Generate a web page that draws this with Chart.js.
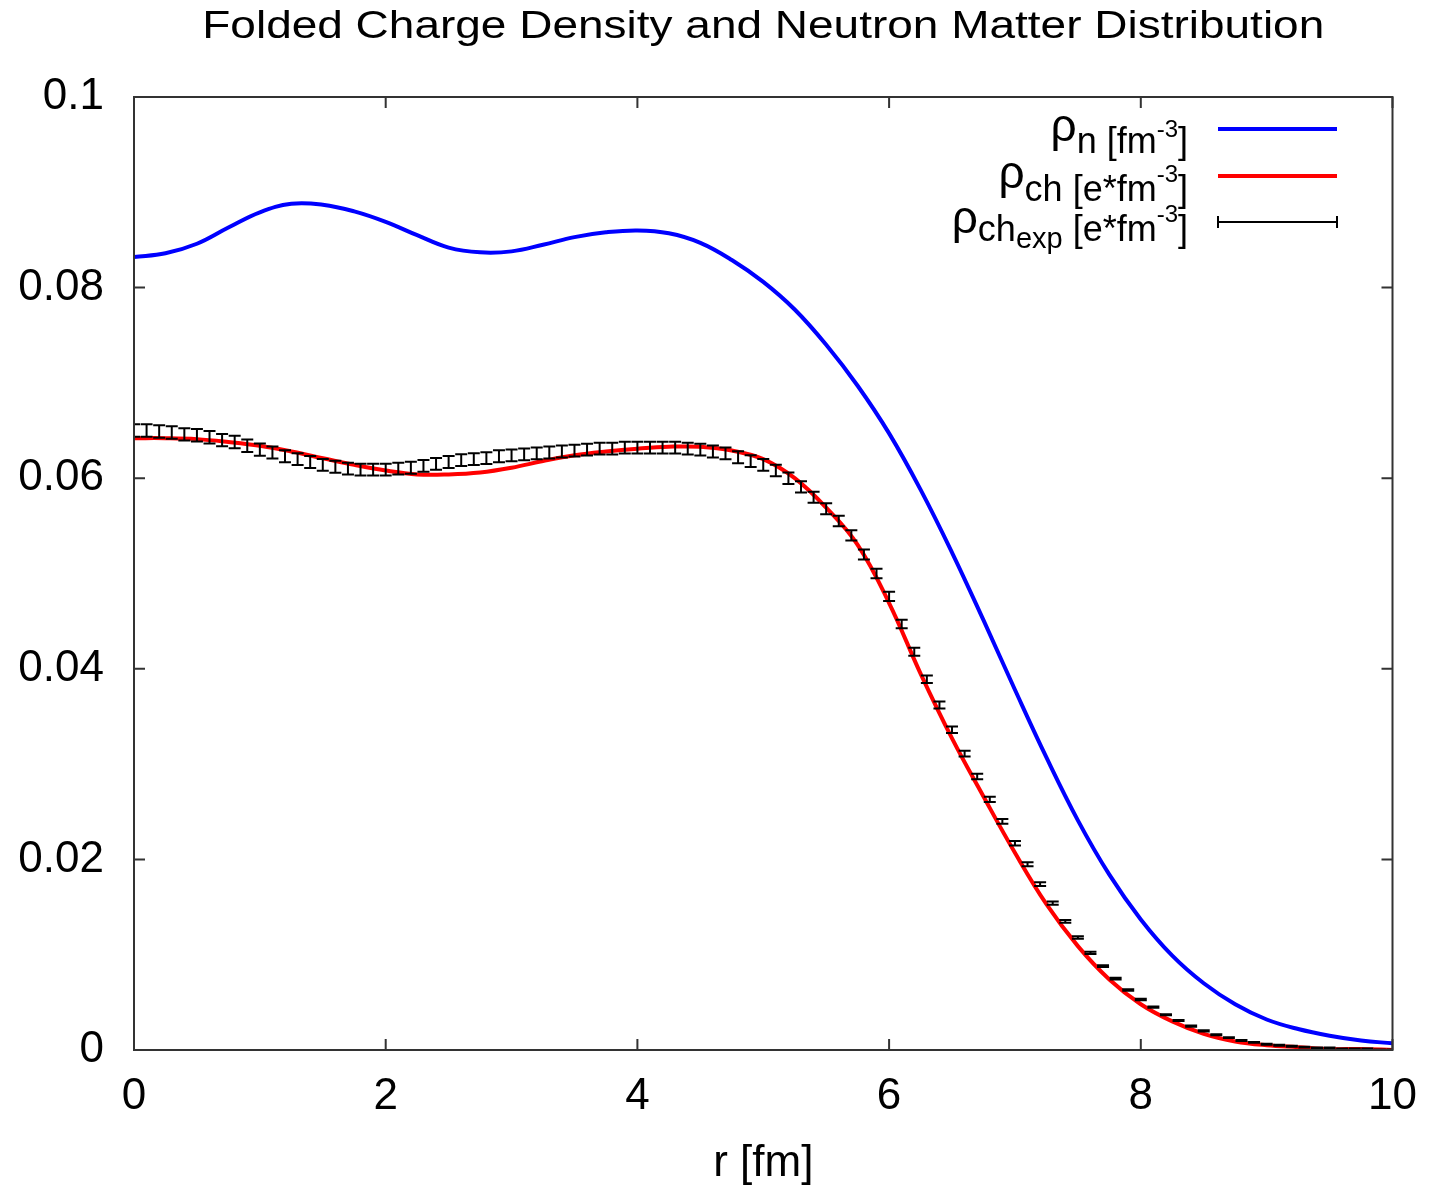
<!DOCTYPE html>
<html>
<head>
<meta charset="utf-8">
<title>Folded Charge Density and Neutron Matter Distribution</title>
<script src="https://cdn.jsdelivr.net/npm/chart.js@4.4.0/dist/chart.umd.min.js"></script>
<style>
  html, body { margin: 0; padding: 0; background: #fff; }
  #myChart { display: block; }
</style>
</head>
<body>
<canvas id="myChart" width="1429" height="1190"></canvas>
<script>
// radius grid for the two calculated curves [fm]
var rCalc = [0, 0.25, 0.5, 0.75, 1, 1.25, 1.5, 1.75, 2, 2.25, 2.5, 2.75, 3, 3.25, 3.5, 3.75,
             4, 4.25, 4.5, 4.75, 5, 5.25, 5.5, 5.75, 6, 6.25, 6.5, 6.75, 7, 7.25, 7.5, 7.75,
             8, 8.25, 8.5, 8.75, 9, 9.25, 9.5, 9.75, 10];

// neutron matter density rho_n [fm^-3]
var rhoN = [0.0832, 0.0836, 0.0846, 0.0863, 0.0879, 0.0888, 0.0887, 0.0880, 0.0869, 0.0855,
            0.0842, 0.0837, 0.0838, 0.0845, 0.0853, 0.0858, 0.0860, 0.0857, 0.0847, 0.0829,
            0.0806, 0.0777, 0.0740, 0.0697, 0.0647, 0.0588, 0.0522, 0.0451, 0.0378, 0.0307,
            0.0241, 0.0184, 0.0137, 0.0099, 0.0070, 0.0048, 0.0032, 0.0022, 0.0015, 0.0010, 0.0007];

// folded charge density rho_ch [e*fm^-3]
var rhoCh = [0.0642, 0.0642, 0.0641, 0.0638, 0.0634, 0.0628, 0.0621, 0.0614, 0.0608, 0.0604,
             0.0604, 0.0606, 0.0611, 0.0618, 0.0624, 0.0628, 0.0631, 0.0633, 0.0633, 0.0629,
             0.0620, 0.0600, 0.0569, 0.0530, 0.0469, 0.0395, 0.0327, 0.0266, 0.0207, 0.0153,
             0.0109, 0.0074, 0.0048, 0.0030, 0.0017, 0.0009, 0.0005, 0.0003, 0.0001, 0.0001, 0.0000];

// experimental charge density with errors
var rExp = [0, 0.1, 0.2, 0.3, 0.4, 0.5, 0.6, 0.7, 0.8, 0.9,
            1, 1.1, 1.2, 1.3, 1.4, 1.5, 1.6, 1.7, 1.8, 1.9,
            2, 2.1, 2.2, 2.3, 2.4, 2.5, 2.6, 2.7, 2.8, 2.9,
            3, 3.1, 3.2, 3.3, 3.4, 3.5, 3.6, 3.7, 3.8, 3.9,
            4, 4.1, 4.2, 4.3, 4.4, 4.5, 4.6, 4.7, 4.8, 4.9,
            5, 5.1, 5.2, 5.3, 5.4, 5.5, 5.6, 5.7, 5.8, 5.9,
            6, 6.1, 6.2, 6.3, 6.4, 6.5, 6.6, 6.7, 6.8, 6.9,
            7, 7.1, 7.2, 7.3, 7.4, 7.5, 7.6, 7.7, 7.8, 7.9,
            8, 8.1, 8.2, 8.3, 8.4, 8.5, 8.6, 8.7, 8.8, 8.9,
            9, 9.1, 9.2, 9.3, 9.4, 9.5, 9.6, 9.7, 9.8, 9.9, 10];
var rhoExp = [0.0650, 0.0650, 0.0649, 0.0648, 0.0646, 0.0645, 0.0643, 0.0640, 0.0638, 0.0634,
              0.0630, 0.0627, 0.0623, 0.0620, 0.0617, 0.0614, 0.0612, 0.0610, 0.0609, 0.0609,
              0.0609, 0.0610, 0.0611, 0.0613, 0.0615, 0.0617, 0.0619, 0.0620, 0.0621, 0.0623,
              0.0624, 0.0625, 0.0626, 0.0627, 0.0628, 0.0629, 0.0630, 0.0631, 0.0631, 0.0632,
              0.0632, 0.0632, 0.0632, 0.0632, 0.0631, 0.0630, 0.0628, 0.0626, 0.0622, 0.0618,
              0.0614, 0.0608, 0.0600, 0.0591, 0.0580, 0.0568, 0.0555, 0.0540, 0.0520, 0.0500,
              0.0476, 0.0447, 0.0418, 0.0389, 0.0362, 0.0336, 0.0311, 0.0287, 0.0263, 0.0240,
              0.0217, 0.0195, 0.0174, 0.0154, 0.0135, 0.0118, 0.0102, 0.0088, 0.0075, 0.0063,
              0.0053, 0.0045, 0.0037, 0.0031, 0.0025, 0.0020, 0.0016, 0.0013, 0.0010, 0.0008,
              0.0006, 0.0005, 0.0004, 0.0003, 0.0002, 0.0002, 0.0001, 0.0001, 0.0001, 0.0000, 0.0000];
var errExp = [0.00065, 0.00065, 0.00065, 0.00065, 0.00065, 0.00065, 0.00065, 0.00065, 0.00065, 0.00065,
              0.00065, 0.00062, 0.00062, 0.00062, 0.00062, 0.00062, 0.00062, 0.00062, 0.00062, 0.00062,
              0.00062, 0.00062, 0.00062, 0.00062, 0.00062, 0.00062, 0.00062, 0.00062, 0.00062, 0.00062,
              0.00062, 0.00062, 0.00062, 0.00062, 0.00062, 0.00062, 0.00062, 0.00062, 0.00062, 0.00062,
              0.00062, 0.00062, 0.00062, 0.00062, 0.00062, 0.00062, 0.00062, 0.00062, 0.00062, 0.00062,
              0.00062, 0.00060, 0.00060, 0.00059, 0.00058, 0.00057, 0.00055, 0.00054, 0.00052, 0.00050,
              0.00048, 0.00045, 0.00042, 0.00039, 0.00036, 0.00034, 0.00031, 0.00029, 0.00027, 0.00025,
              0.00023, 0.00021, 0.00019, 0.00017, 0.00015, 0.00013, 0.00012, 0.00010, 0.00009, 0.00008,
              0.00007, 0.00006, 0.00006, 0.00006, 0.00006, 0.00006, 0.00005, 0.00005, 0.00005, 0.00005,
              0.00005, 0.00005, 0.00005, 0.00005, 0.00005, 0.00005, 0.00005, 0.00005, 0.00005, 0.00005, 0.00005];

var xTickLabels = ['0', '2', '4', '6', '8', '10'];
var yTickLabels = ['0', '0.02', '0.04', '0.06', '0.08', '0.1'];
var chartTitle = 'Folded Charge Density and Neutron Matter Distribution';

function pts(xs, ys) {
  return xs.map(function (x, i) { return { x: x, y: ys[i] }; });
}

var FONT = "'Liberation Sans', Arial, sans-serif";

// error bars of the experimental points, drawn on top of the curves
var errorBars = {
  id: 'errorBars',
  afterDatasetsDraw: function (chart) {
    var meta = chart.getDatasetMeta(2);
    var ys = chart.scales.y;
    var a = chart.chartArea;
    var ctx = chart.ctx;
    ctx.save();
    ctx.beginPath();
    ctx.rect(a.left, a.top, a.right - a.left, a.bottom - a.top);
    ctx.clip();
    ctx.strokeStyle = '#000';
    ctx.lineWidth = 2;
    ctx.beginPath();
    meta.data.forEach(function (pt, i) {
      var top = ys.getPixelForValue(rhoExp[i] + errExp[i]);
      var bot = ys.getPixelForValue(rhoExp[i] - errExp[i]);
      ctx.moveTo(pt.x, top); ctx.lineTo(pt.x, bot);
      ctx.moveTo(pt.x - 6, top); ctx.lineTo(pt.x + 6, top);
      ctx.moveTo(pt.x - 6, bot); ctx.lineTo(pt.x + 6, bot);
    });
    ctx.stroke();
    ctx.restore();
  }
};

// gnuplot style box with inward ticks on all four sides, plus the title
var frame = {
  id: 'frame',
  afterDraw: function (chart) {
    var a = chart.chartArea;
    var ctx = chart.ctx;
    var xs = chart.scales.x, ys = chart.scales.y;
    ctx.save();
    ctx.strokeStyle = '#333';
    ctx.lineWidth = 2;
    ctx.strokeRect(a.left, a.top, a.right - a.left, a.bottom - a.top);
    ctx.beginPath();
    xs.ticks.forEach(function (t) {
      var px = xs.getPixelForValue(t.value);
      ctx.moveTo(px, a.bottom); ctx.lineTo(px, a.bottom - 11);
      ctx.moveTo(px, a.top); ctx.lineTo(px, a.top + 11);
    });
    ys.ticks.forEach(function (t) {
      var py = ys.getPixelForValue(t.value);
      ctx.moveTo(a.left, py); ctx.lineTo(a.left + 11, py);
      ctx.moveTo(a.right, py); ctx.lineTo(a.right - 11, py);
    });
    ctx.stroke();

    // title: gnuplot's font is wider than Liberation Sans, stretch it a bit
    ctx.font = '38px ' + FONT;
    ctx.fillStyle = '#000';
    ctx.textAlign = 'center';
    ctx.textBaseline = 'alphabetic';
    var w = ctx.measureText(chartTitle).width;
    var sx = 1122 / w;
    ctx.translate((a.left + a.right) / 2, 38);
    ctx.scale(sx, 1);
    ctx.fillText(chartTitle, 0, 0);
    ctx.restore();
  }
};

// legend with sub/superscripts, right aligned like gnuplot's key
var keyRows = [
  { parts: [['ρ', 46, 141], ['n [fm', 36, 153], ['-3', 24, 137], [']', 36, 153]], y: 129, kind: 'line', color: '#0000ff' },
  { parts: [['ρ', 46, 188], ['ch [e*fm', 36, 201], ['-3', 24, 182], [']', 36, 201]], y: 176, kind: 'line', color: '#ff0000' },
  { parts: [['ρ', 46, 233], ['ch', 36, 241], ['exp', 29, 248], [' [e*fm', 36, 241], ['-3', 24, 222], [']', 36, 241]], y: 222, kind: 'err', color: '#000' }
];
var gnuKey = {
  id: 'gnuKey',
  afterDraw: function (chart) {
    var ctx = chart.ctx;
    var textRight = 1188, x0 = 1218, x1 = 1337;
    ctx.save();
    keyRows.forEach(function (row) {
      var widths = row.parts.map(function (p) {
        ctx.font = p[1] + 'px ' + FONT;
        return ctx.measureText(p[0]).width;
      });
      var total = widths.reduce(function (s, w) { return s + w; }, 0);
      var x = textRight - total;
      ctx.fillStyle = '#000';
      ctx.textBaseline = 'alphabetic';
      ctx.textAlign = 'left';
      row.parts.forEach(function (p, i) {
        ctx.font = p[1] + 'px ' + FONT;
        ctx.fillText(p[0], x, p[2]);
        x += widths[i];
      });
      ctx.strokeStyle = row.color;
      ctx.beginPath();
      if (row.kind === 'line') {
        ctx.lineWidth = 4;
        ctx.moveTo(x0, row.y); ctx.lineTo(x1, row.y);
      } else {
        ctx.lineWidth = 2;
        ctx.moveTo(x0, row.y); ctx.lineTo(x1, row.y);
        ctx.moveTo(x0, row.y - 6); ctx.lineTo(x0, row.y + 6);
        ctx.moveTo(x1, row.y - 6); ctx.lineTo(x1, row.y + 6);
      }
      ctx.stroke();
    });
    ctx.restore();
  }
};

window.addEventListener('DOMContentLoaded', function () {
  var ctx = document.getElementById('myChart').getContext('2d');
  var chart = new Chart(ctx, {
    type: 'line',
    data: {
      datasets: [{
        label: 'ρn [fm-3]',
        data: pts(rCalc, rhoN),
        borderColor: '#0000ff',
        borderWidth: 4,
        pointRadius: 0,
        fill: false,
        tension: 0.4
      }, {
        label: 'ρch [e*fm-3]',
        data: pts(rCalc, rhoCh),
        borderColor: '#ff0000',
        borderWidth: 4,
        pointRadius: 0,
        fill: false,
        tension: 0.4
      }, {
        label: 'ρch_exp [e*fm-3]',
        data: pts(rExp, rhoExp),
        showLine: false,
        pointRadius: 0,
        borderColor: '#000'
      }]
    },
    options: {
      responsive: false,
      animation: false,
      devicePixelRatio: 1,
      layout: { padding: { left: 0, right: 36.5, top: 97, bottom: 0 } },
      plugins: {
        legend: { display: false },
        tooltip: { enabled: false },
        title: { display: false }
      },
      scales: {
        x: {
          type: 'linear',
          min: 0,
          max: 10,
          grid: { display: false, drawTicks: false },
          border: { display: false },
          ticks: {
            stepSize: 2,
            padding: 20,
            color: '#000',
            font: { family: FONT, size: 44 },
            maxRotation: 0,
            callback: function (v, i) { return xTickLabels[i]; }
          },
          title: {
            display: true,
            text: 'r [fm]',
            color: '#000',
            font: { family: FONT, size: 44 },
            padding: 0
          },
          afterFit: function (s) { s.height = 140; s.paddingLeft = 0; s.paddingRight = 0; }
        },
        y: {
          min: 0,
          max: 0.1,
          grid: { display: false, drawTicks: false },
          border: { display: false },
          ticks: {
            stepSize: 0.02,
            padding: 30,
            color: '#000',
            font: { family: FONT, size: 44 },
            callback: function (v, i) { return yTickLabels[i]; }
          },
          afterFit: function (s) { s.width = 134; s.paddingTop = 0; s.paddingBottom = 0; }
        }
      }
    },
    plugins: [errorBars, frame, gnuKey]
  });
});
</script>
</body>
</html>
